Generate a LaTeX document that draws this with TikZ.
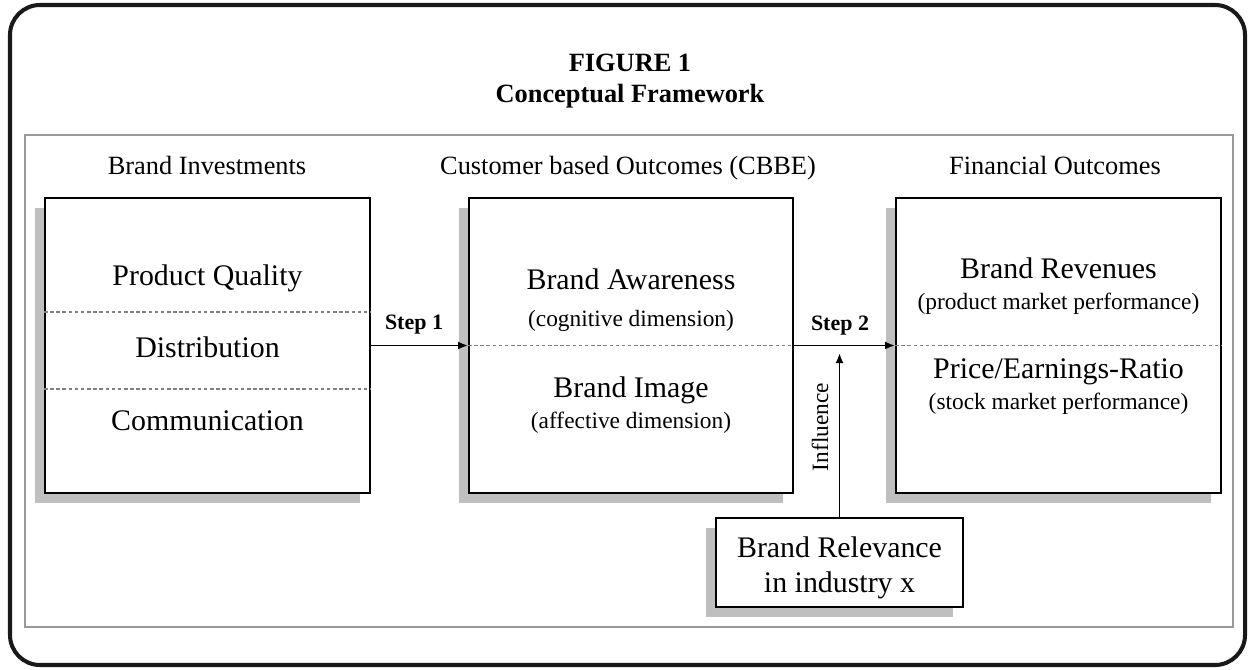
\documentclass[tikz,border=0pt]{standalone}
\usepackage{fontspec}
\setmainfont{Liberation Serif}
\usetikzlibrary{arrows.meta,shadows}

\begin{document}
\begin{tikzpicture}[line width=1.1pt,
	blockbox/.style={draw, fill=white, inner sep=0pt, minimum width=6.5cm, minimum height=5.9cm,
		drop shadow={shadow xshift=-0.2cm, shadow yshift=-0.2cm, fill=black!25, opacity=1}},
	divider/.style={draw=gray, line width=0.6pt, dash pattern=on 2pt off 1.5pt},
	arrowline/.style={-{Latex[length=2mm,width=1.6mm]}},
	bigtext/.style={anchor=base, font=\fontsize{17}{20}\selectfont},
	smalltext/.style={anchor=base, font=\fontsize{13.3}{16}\selectfont},
	headtext/.style={anchor=base, font=\fontsize{15}{18}\selectfont},
	titletext/.style={anchor=base, font=\fontsize{15}{18}\selectfont\bfseries},
	steptext/.style={anchor=base, font=\fontsize{12.5}{15}\selectfont\bfseries}]

	\useasboundingbox (0, 0) rectangle (24.98, 13.38);

	\draw[line width=2.3pt, black!90, rounded corners=0.6cm] (0.2, 0.08) rectangle (24.9, 13.28); % внешняя рамка
	\draw[line width=0.8pt, gray!80] (0.5, 0.84) rectangle (24.66, 10.68); % поле схемы

	\node[titletext] (fignum) at (12.6, 11.96) {FIGURE 1};
	\node[titletext] (figtitle) at (12.6, 11.34) {Conceptual Framework};

	% блоки
	\node[blockbox] (inv) at (4.15, 6.47) {};
	\node[blockbox, minimum width=6.48cm] (cbbe) at (12.62, 6.47) {};
	\node[blockbox] (fin) at (21.17, 6.47) {};
	\node[blockbox, minimum width=4.94cm, minimum height=1.78cm] (rel) at (16.79, 2.13) {};

	\draw[divider] (inv.west |- 0, 7.14) -- (inv.east |- 0, 7.14);
	\draw[divider] (inv.west |- 0, 5.6) -- (inv.east |- 0, 5.6);
	\draw[divider] (cbbe.west) -- (cbbe.east);
	\draw[divider] (fin.west) -- (fin.east);

	% стрелки
	\coordinate (infl) at (16.79, 6.32);
	\draw[arrowline] (inv.east) -- (cbbe.west);
	\draw[arrowline] (cbbe.east) -- (fin.west);
	\draw[arrowline] (rel.north) -- (infl);

	\node[headtext] (invhead) at (4.14, 9.9) {Brand Investments};
	\node[headtext] (cbbehead) at (12.56, 9.9) {Customer based Outcomes (CBBE)};
	\node[headtext] (finhead) at (21.1, 9.9) {Financial Outcomes};

	\node[bigtext] (quality) at (4.15, 7.68) {Product Quality};
	\node[bigtext] (distrib) at (4.15, 6.24) {Distribution};
	\node[bigtext] (commun) at (4.15, 4.78) {Communication};

	\node[bigtext] (aware) at (12.62, 7.6) {Brand Awareness};
	\node[smalltext] (cogn) at (12.62, 6.86) {(cognitive dimension)};
	\node[bigtext] (image) at (12.62, 5.44) {Brand Image};
	\node[smalltext] (affect) at (12.62, 4.82) {(affective dimension)};

	\node[bigtext] (revenue) at (21.17, 7.82) {Brand Revenues};
	\node[smalltext] (prodmkt) at (21.17, 7.2) {(product market performance)};
	\node[bigtext] (peratio) at (21.17, 5.82) {Price/Earnings-Ratio};
	\node[smalltext] (stockmkt) at (21.17, 5.2) {(stock market performance)};

	\node[bigtext] (relev) at (16.79, 2.24) {Brand Relevance};
	\node[bigtext] (industry) at (16.79, 1.54) {in industry x};

	\node[steptext] (step1) at (8.28, 6.8) {Step 1};
	\node[steptext] (step2) at (16.8, 6.78) {Step 2};
	\node[smalltext, anchor=center, rotate=90] (influence) at (16.4, 4.84) {Influence};
\end{tikzpicture}
\end{document}
